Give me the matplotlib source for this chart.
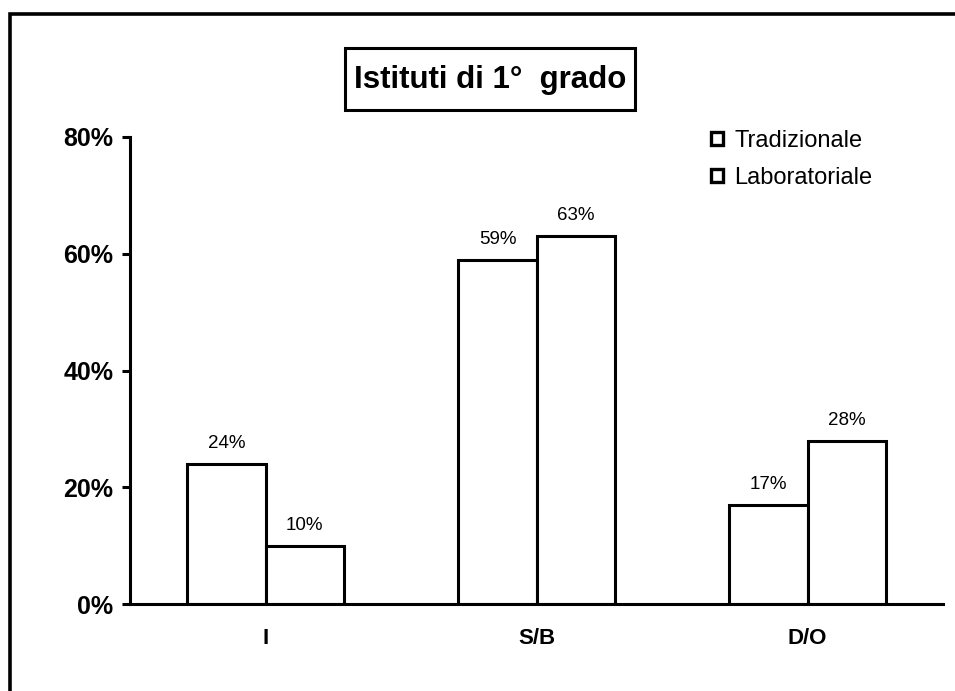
import matplotlib
matplotlib.use("Agg")
import matplotlib.pyplot as plt
from matplotlib.patches import Patch, Rectangle
from matplotlib.lines import Line2D
from matplotlib.ticker import FuncFormatter
import numpy as np

plt.rcParams['font.family'] = ['Liberation Sans', 'DejaVu Sans']

title = "Istituti di 1°  grado"
categories = ["I", "S/B", "D/O"]
series_names = ["Tradizionale", "Laboratoriale"]
tradizionale = [24, 59, 17]
laboratoriale = [10, 63, 28]
y_ticks = [0, 20, 40, 60, 80]

W, H = 955, 691
fig = plt.figure(figsize=(W / 100, H / 100), dpi=100)
fig.patch.set_facecolor("white")

# outer frame (left and top edges visible)
fig.add_artist(Line2D([9.5 / W, 9.5 / W, 1.01], [-0.01, 1 - 13.5 / H, 1 - 13.5 / H],
                      transform=fig.transFigure, color="black", lw=2.6,
                      solid_joinstyle="miter"))

ax = fig.add_axes([130 / W, 87 / H, 813 / W, 467 / H])
x = np.arange(len(categories))
bw = 0.288
series = [tradizionale, laboratoriale]
for i, vals in enumerate(series):
    pos = x + (i - 0.5) * bw
    ax.bar(pos, vals, width=bw, facecolor="white", edgecolor="black",
           linewidth=2.2, label=series_names[i], zorder=3)
    for p, v in zip(pos, vals):
        ax.annotate(f"{v}%", (p, v), xytext=(0, 12), textcoords="offset pixels",
                    ha="center", va="bottom", fontsize=13.5)

ax.set_xlim(-0.5, 2.5)
ax.set_ylim(0, 80)
ax.set_yticks(y_ticks)
ax.yaxis.set_major_formatter(FuncFormatter(lambda v, _: f"{v:.0f}%"))
ax.set_xticks(x)
ax.set_xticklabels(categories, fontsize=16, fontweight="bold")
ax.tick_params(axis="x", length=0, pad=17)
ax.tick_params(axis="y", length=6, width=2.2, direction="out", pad=6,
               labelsize=18)
for lbl in ax.get_yticklabels():
    lbl.set_fontweight("bold")
for s in ["top", "right"]:
    ax.spines[s].set_visible(False)
for s in ["left", "bottom"]:
    ax.spines[s].set_linewidth(2.2)
ax.spines["bottom"].set_zorder(4)

handles = [Patch(facecolor="white", edgecolor="black", linewidth=2.4, label=n)
           for n in series_names]
leg = ax.legend(handles=handles, loc="upper left",
                bbox_to_anchor=(711 / W, 1 - 130 / H), bbox_transform=fig.transFigure,
                frameon=False, fontsize=17, handlelength=0.5, handleheight=0.5,
                handletextpad=0.5, labelspacing=0.62, borderpad=0, borderaxespad=0)

# boxed title
fig.add_artist(Rectangle((345 / W, 1 - 110 / H), 290 / W, 62 / H,
                         transform=fig.transFigure, facecolor="white",
                         edgecolor="black", linewidth=2.2))
fig.text(490 / W, 1 - 80 / H, title, ha="center", va="center",
         fontsize=22.5, fontweight="bold")

fig.savefig("out.png", dpi=100, facecolor="white")
